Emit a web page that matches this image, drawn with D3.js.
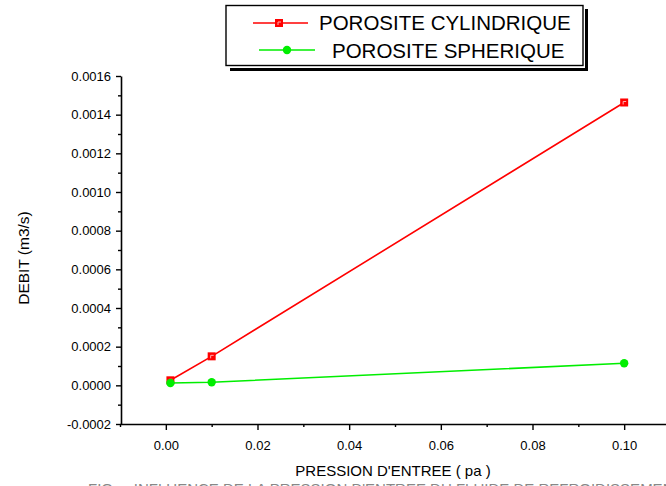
<!DOCTYPE html>
<html><head><meta charset="utf-8">
<script src="https://cdn.jsdelivr.net/npm/d3@7"></script>
<style>body{margin:0;background:#fff}svg{display:block;font-family:"Liberation Sans",Arial,sans-serif}</style>
</head><body><svg id="c" width="666" height="486"></svg>
<script>
const pressure = [0.001, 0.01, 0.1];
const cylindrique = [0.000026, 0.00015, 0.001463];
const spherique = [0.000012, 0.000016, 0.000114];
const seriesNames = ["POROSITE CYLINDRIQUE", "POROSITE SPHERIQUE"];
const xTicks = [0.00, 0.02, 0.04, 0.06, 0.08, 0.10];
const yTicks = [-0.0002, 0, 0.0002, 0.0004, 0.0006, 0.0008, 0.0010, 0.0012, 0.0014, 0.0016];

const svg = d3.select("#c");
const x = d3.scaleLinear().domain([-0.01, 0.11]).range([120, 670]);
const y = d3.scaleLinear().domain([-0.0002, 0.0016]).range([424, 76]);

const fmtY = v => d3.format(".4f")(v).replace("\u2212", "-");
const xMinor = d3.range(-0.01, 0.111, 0.01).map(v => +v.toFixed(3)).filter(v => !xTicks.some(t => Math.abs(t - v) < 1e-9));
const yMinor = d3.range(-0.0001, 0.0016, 0.0002).map(v => +v.toFixed(5));

const gx = svg.append("g").attr("transform", "translate(0,424)");
gx.call(d3.axisBottom(x).tickValues(xTicks).tickFormat(d3.format(".2f")).tickSize(6).tickSizeOuter(0));
gx.append("g").call(d3.axisBottom(x).tickValues(xMinor).tickFormat("").tickSize(3).tickSizeOuter(0)).select(".domain").remove();
const gy = svg.append("g").attr("transform", "translate(121,0)");
gy.call(d3.axisLeft(y).tickValues(yTicks).tickFormat(fmtY).tickSize(5).tickSizeOuter(0));
gy.append("g").call(d3.axisLeft(y).tickValues(yMinor).tickFormat("").tickSize(3).tickSizeOuter(0)).select(".domain").remove();
svg.selectAll(".domain").attr("stroke", "#000").attr("stroke-width", 1.6);
svg.selectAll(".tick line").attr("stroke", "#000").attr("stroke-width", 1.4);
svg.selectAll(".tick text").attr("font-size", 13).attr("fill", "#000").attr("font-family", "Liberation Sans, Arial, sans-serif");
gx.selectAll(".tick text").attr("dy", "1.3em");
gy.selectAll(".tick text").attr("dx", "-0.15em");

// labels
svg.append("text").attr("x", 393).attr("y", 476).attr("text-anchor", "middle").attr("font-size", 15).text("PRESSION D'ENTREE ( pa )");
svg.append("text").attr("transform", "translate(29,258) rotate(-90)").attr("text-anchor", "middle").attr("font-size", 15.5).text("DEBIT (m3/s)");
svg.append("text").attr("x", 88).attr("y", 494).attr("font-size", 15).attr("fill", "#888").attr("xml:space", "preserve")
  .text("FIG.    INFLUENCE DE LA PRESSION D'ENTREE DU FLUIDE DE REFROIDISSEMENT");

// series
const line = d3.line().x(d => x(d[0])).y(d => y(d[1]));
const cyl = pressure.map((p, i) => [p, cylindrique[i]]);
const sph = pressure.map((p, i) => [p, spherique[i]]);

function square(g, cx, cy) {
  g.append("rect").attr("x", cx - 4).attr("y", cy - 4).attr("width", 8).attr("height", 8).attr("fill", "#ff0000");
  g.append("path").attr("d", `M${cx-1},${cy+2}V${cy-1}H${cx+2}`).attr("stroke", "#ffb0b0").attr("stroke-width", 1).attr("fill", "none");
}
svg.append("path").datum(cyl).attr("d", line).attr("fill", "none").attr("stroke", "#ff0000").attr("stroke-width", 1.6);
const gc = svg.append("g");
cyl.forEach(d => square(gc, x(d[0]), y(d[1])));
svg.append("path").datum(sph).attr("d", line).attr("fill", "none").attr("stroke", "#00ee00").attr("stroke-width", 1.6);
svg.append("g").selectAll("circle").data(sph).join("circle")
  .attr("cx", d => x(d[0])).attr("cy", d => y(d[1])).attr("r", 4.2).attr("fill", "#00ee00");

// legend
const lg = svg.append("g");
lg.append("rect").attr("x", 230).attr("y", 9).attr("width", 358).attr("height", 62).attr("fill", "#000");
lg.append("rect").attr("x", 229).attr("y", 8).attr("width", 356).attr("height", 60).attr("fill", "#fff");
lg.append("rect").attr("x", 226).attr("y", 5.5).attr("width", 357).attr("height", 60).attr("fill", "#fff").attr("stroke", "#000").attr("stroke-width", 1.4);
lg.append("line").attr("x1", 253).attr("x2", 308).attr("y1", 23).attr("y2", 23).attr("stroke", "#ff0000").attr("stroke-width", 1.6);
square(lg, 279, 23);
lg.append("text").attr("x", 319).attr("y", 30).attr("font-size", 20.5).text(seriesNames[0]);
lg.append("line").attr("x1", 259).attr("x2", 315).attr("y1", 50).attr("y2", 50).attr("stroke", "#00ee00").attr("stroke-width", 1.6);
lg.append("circle").attr("cx", 287).attr("cy", 50).attr("r", 4.2).attr("fill", "#00ee00");
lg.append("text").attr("x", 332).attr("y", 58).attr("font-size", 20.5).text(seriesNames[1]);
</script></body></html>
